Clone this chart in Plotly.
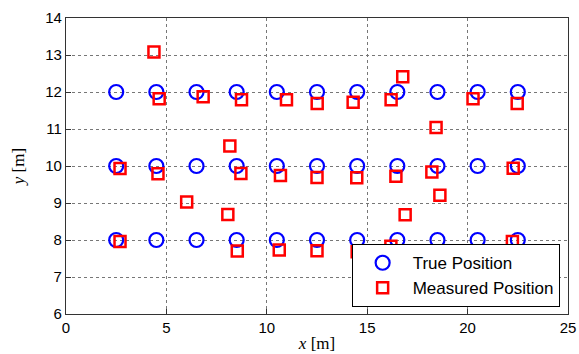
import plotly.graph_objects as go

# True positions (grid of anchors)
true_x = [2.5, 4.5, 6.5, 8.5, 10.5, 12.5, 14.5, 16.5, 18.5, 20.5, 22.5,
          2.5, 4.5, 6.5, 8.5, 10.5, 12.5, 14.5, 16.5, 18.5, 20.5, 22.5,
          2.5, 4.5, 6.5, 8.5, 10.5, 12.5, 14.5, 16.5, 18.5, 20.5, 22.5]
true_y = [12, 12, 12, 12, 12, 12, 12, 12, 12, 12, 12,
          10, 10, 10, 10, 10, 10, 10, 10, 10, 10, 10,
          8, 8, 8, 8, 8, 8, 8, 8, 8, 8, 8]

# Measured positions
meas_x = [4.38, 4.64, 6.83, 8.74, 10.98, 12.51, 14.30, 16.19, 16.77, 20.27, 22.47,
          2.69, 4.58, 6.01, 8.06, 8.16, 8.71, 10.68, 12.50, 14.48, 16.43, 16.89, 18.22, 18.43, 18.62, 22.27,
          2.69, 8.53, 10.62, 12.50, 14.50, 16.18, 22.23]
meas_y = [13.08, 11.82, 11.87, 11.79, 11.79, 11.69, 11.72, 11.79, 12.41, 11.82, 11.69,
          9.93, 9.79, 9.03, 8.69, 10.54, 9.80, 9.74, 9.69, 9.68, 9.72, 8.68, 9.84, 11.04, 9.21, 9.94,
          7.96, 7.70, 7.73, 7.71, 7.68, 7.83, 7.96]

x_ticks = [0, 5, 10, 15, 20, 25]
y_ticks = [6, 7, 8, 9, 10, 11, 12, 13, 14]

fig = go.Figure()
fig.add_trace(go.Scatter(
    x=true_x, y=true_y, mode="markers", name="True Position",
    marker=dict(symbol="circle-open", size=14, color="#0000FF",
                line=dict(width=2.2, color="#0000FF")),
))
fig.add_trace(go.Scatter(
    x=meas_x, y=meas_y, mode="markers", name="Measured Position",
    marker=dict(symbol="square-open", size=11, color="#FF0000",
                line=dict(width=2.5, color="#FF0000")),
))

axis_common = dict(
    showline=True, linecolor="#333333", linewidth=1.2, mirror=True,
    showgrid=True, gridcolor="#777777", griddash="dot", gridwidth=1,
    zeroline=False, ticks="inside", ticklen=5, tickcolor="#333333",
    automargin=False,
    tickfont=dict(family="Liberation Sans, Arial, sans-serif", size=15, color="black"),
)

fig.update_xaxes(range=[0, 25], tickvals=x_ticks, ticktext=[str(t) for t in x_ticks],
                 title=dict(text="<i>x</i> [m]", standoff=2,
                            font=dict(family="Liberation Serif, Times New Roman, serif", size=17, color="black")),
                 **axis_common)
fig.update_yaxes(range=[6, 14], tickvals=y_ticks, ticktext=[str(t) for t in y_ticks],
                 title=dict(text="<i>y</i> [m]", standoff=16,
                            font=dict(family="Liberation Serif, Times New Roman, serif", size=17, color="black")),
                 **axis_common)

fig.update_layout(
    width=579, height=354,
    margin=dict(l=66, r=11, t=18, b=40),
    plot_bgcolor="white", paper_bgcolor="white",
    legend=dict(
        x=0.569, y=0.023, xanchor="left", yanchor="bottom",
        bgcolor="white", bordercolor="black", borderwidth=1,
        font=dict(family="Liberation Sans, Arial, sans-serif", size=17, color="black"),
        itemwidth=50,
    ),
    showlegend=True,
)

fig.write_html("out.html", config={"displayModeBar": False},
               post_script="document.body.style.margin='0px';document.body.style.overflow='hidden';")
